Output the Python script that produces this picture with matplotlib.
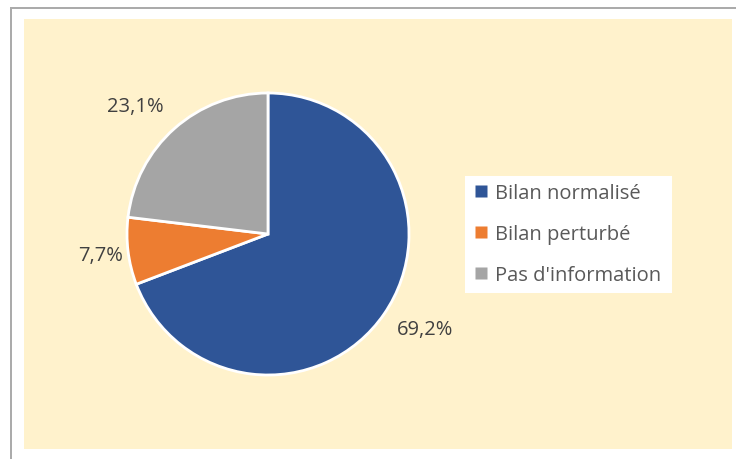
import numpy as np
import matplotlib.pyplot as plt
from matplotlib.patches import Rectangle
from matplotlib.lines import Line2D

categories = ["Bilan normalisé", "Bilan perturbé", "Pas d'information"]
values = [69.2, 7.7, 23.1]
colors = ["#2F5597", "#ED7D31", "#A5A5A5"]
label_dist = [1.30, 1.20, 1.31]
label_turn = [3.4, 0.0, 4.5]  # degrés

W, H = 736, 460
fig = plt.figure(figsize=(W / 100, H / 100), dpi=100)
fig.patch.set_facecolor("white")

# cadre gris et fond beige
fig.add_artist(Rectangle((10 / W, 0), 2 / W, 1 - 8 / H, transform=fig.transFigure,
                         facecolor="#ABABAB", edgecolor="none", zorder=-2))
fig.add_artist(Rectangle((10 / W, 1 - 10 / H), 1, 2 / H, transform=fig.transFigure,
                         facecolor="#ABABAB", edgecolor="none", zorder=-2))
fig.add_artist(Rectangle((24 / W, 1 - 450 / H), 708 / W, 430 / H, transform=fig.transFigure,
                         facecolor="#FFF2CC", edgecolor="none", zorder=-2))
fig.add_artist(Rectangle((465 / W, 1 - 294 / H), 207 / W, 117 / H, transform=fig.transFigure,
                         facecolor="white", edgecolor="none", zorder=-1))

ax = fig.add_axes([127 / W, 1 - 376 / H, 282 / W, 282 / H])
wedges, texts, autotexts = ax.pie(
    values, colors=colors, startangle=90, counterclock=False,
    autopct=lambda p: f"{p:.1f}%".replace(".", ","), pctdistance=1.27,
    wedgeprops=dict(edgecolor="white", linewidth=2),
    textprops=dict(fontsize=14.5, color="#404040", family="Open Sans"))
# décalage des étiquettes comme dans Excel
for w, t, d, turn in zip(wedges, autotexts, label_dist, label_turn):
    a = np.radians((w.theta1 + w.theta2) / 2 + turn)
    t.set_position((d * np.cos(a), d * np.sin(a)))
ax.set_xlim(-1, 1)
ax.set_ylim(-1, 1)
ax.set_aspect("equal")
ax.axis("off")

handles = [Line2D([0], [0], marker="s", color="none", markerfacecolor=c,
                  markeredgecolor="none", markersize=8) for c in colors]
leg = fig.legend(handles, categories, loc="center left",
                 bbox_to_anchor=(473 / W, 1 - 235 / H), borderaxespad=0,
                 frameon=False, handlelength=0.8,
                 handletextpad=0.3, labelspacing=1.05, borderpad=0,
                 prop=dict(family="Open Sans", size=14.5), labelcolor="#595959")

fig.savefig("out.png", dpi=100)
